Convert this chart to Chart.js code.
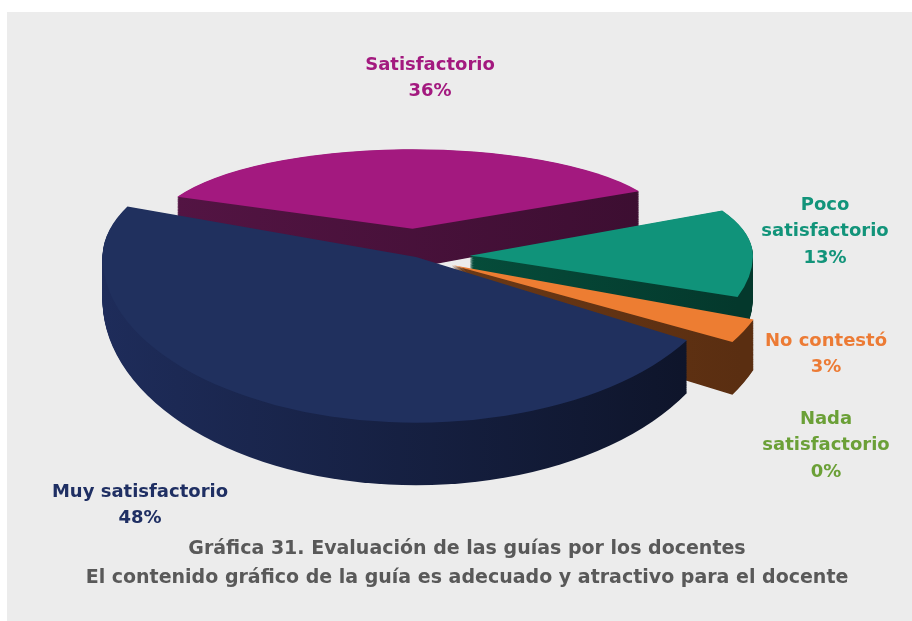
<!DOCTYPE html>
<html>
<head>
<meta charset="utf-8">
<script src="https://cdn.jsdelivr.net/npm/chart.js@4.4.1/dist/chart.umd.min.js"></script>
<style>
  html, body { margin: 0; padding: 0; background: #fff; }
  #wrap { position: relative; width: 912px; height: 621px; overflow: hidden; }
  #panel { position: absolute; left: 7px; top: 12px; right: 0; bottom: 0; background: #ececec; }
  #chart { position: absolute; left: 0; top: 0; }
</style>
</head>
<body>
<div id="wrap">
  <div id="panel"></div>
  <canvas id="chart" width="912" height="621"></canvas>
</div>
<script>
// data
const categories = ['Satisfactorio', ['Poco', 'satisfactorio'], 'No contestó', ['Nada', 'satisfactorio'], 'Muy satisfactorio'];
const percents = [36, 13, 3, 0, 48];
const topColors = ['#a3197f', '#10937a', '#ed7d32', '#6aa136', '#20305e'];
const sideLight = ['#531443', '#076048', '#7c431a', '#3b5a1c', '#1e2c5a'];
const sideDark = ['#3c0e31', '#04382c', '#5a2e11', '#2a4214', '#0d1327'];
const labelColors = ['#a3197f', '#12947a', '#ec7b35', '#6ba037', '#1f2f63'];
const slideOut = [480, 250, 170, 0, 0];
const captionLines = [
    'Gráfica 31. Evaluación de las guías por los docentes',
    'El contenido gráfico de la guía es adecuado y atractivo para el docente'
];

const FONT = '"Century Gothic", "DejaVu Sans", sans-serif';

// fake 3d view: back half squashed more than the front half, slices further
// back drawn a bit smaller, then everything extruded towards a vanishing row
const tilt = {
    cx: 416, cy: 257, kBack: 0.41, kFront: 0.526,
    persp: -0.15, perspBase: 0.87,
    vanishY: -99, depth: 1.12, layers: 60
};

function eachHalf(ctx, fx, fy, m, p, fn) {
    const split = tilt.vanishY + m * (tilt.cy - tilt.vanishY);
    [[tilt.kBack, -5000, split], [tilt.kFront, split, 5000]].forEach(([k, y0, y1]) => {
        ctx.save();
        ctx.beginPath();
        ctx.rect(-50, y0, 1100, y1 - y0);
        ctx.clip();
        ctx.translate(tilt.cx, split);
        ctx.scale(p, m * k * p * p);
        ctx.translate(-fx, -fy);
        fn();
        ctx.restore();
    });
}

const pie3d = {
    id: 'pie3d',
    beforeDatasetsDraw(chart) {
        const ctx = chart.ctx;
        const arcs = chart.getDatasetMeta(0).data;
        const fx = arcs[0].x, fy = arcs[0].y, r = arcs[0].outerRadius;

        const depthOf = i => Math.sin((arcs[i].startAngle + arcs[i].endAngle) / 2);
        const scaleOf = i => tilt.perspBase / (1 + tilt.persp * depthOf(i));
        const order = arcs.map((a, i) => i)
            .filter(i => percents[i] > 0)
            .sort((a, b) => depthOf(a) - depthOf(b));

        // side walls, back slices first
        order.forEach(i => {
            const arc = arcs[i];
            const p = scaleOf(i);
            const grad = ctx.createLinearGradient(fx - r, 0, fx + r, 0);
            grad.addColorStop(0, sideLight[i]);
            grad.addColorStop(1, sideDark[i]);
            const side = Object.create(arc);
            side.options = Object.assign({}, arc.options, { backgroundColor: grad, borderWidth: 0 });
            for (let s = tilt.layers; s >= 1; s--) {
                const m = 1 + (tilt.depth - 1) * s / tilt.layers;
                eachHalf(ctx, fx, fy, m, p, () => arc.draw.call(side, ctx));
            }
        });

        // top faces
        order.forEach(i => {
            eachHalf(ctx, fx, fy, 1, scaleOf(i), () => arcs[i].draw(ctx));
        });
        return false;
    }
};

const labelAnchors = [[430, 65], [825, 205], [826, 341], [826, 419], [140, 492]];

const outsideLabels = {
    id: 'outsideLabels',
    afterDraw(chart) {
        const ctx = chart.ctx;
        ctx.save();
        ctx.font = 'bold 18px ' + FONT;
        ctx.textAlign = 'center';
        ctx.textBaseline = 'middle';
        chart.data.labels.forEach((lab, i) => {
            const lines = [].concat(lab, percents[i] + '%');
            ctx.fillStyle = labelColors[i];
            lines.forEach((t, j) => {
                ctx.fillText(t, labelAnchors[i][0], labelAnchors[i][1] + j * 26.5);
            });
        });
        ctx.restore();
    }
};

new Chart(document.getElementById('chart'), {
    type: 'pie',
    data: {
        labels: categories,
        datasets: [{
            data: percents,
            backgroundColor: topColors,
            borderWidth: 0,
            offset: slideOut,
            radius: 312,
            rotation: -67,
            clip: false
        }]
    },
    options: {
        responsive: false,
        animation: false,
        events: [],
        layout: { padding: { left: 22, bottom: 29 } },
        plugins: {
            legend: { display: false },
            tooltip: { enabled: false },
            title: {
                display: true,
                position: 'bottom',
                text: captionLines,
                color: '#595959',
                font: { family: FONT, size: 19, weight: 'bold', lineHeight: 1.5 },
                padding: 0
            }
        }
    },
    plugins: [pie3d, outsideLabels]
});
</script>
</body>
</html>
